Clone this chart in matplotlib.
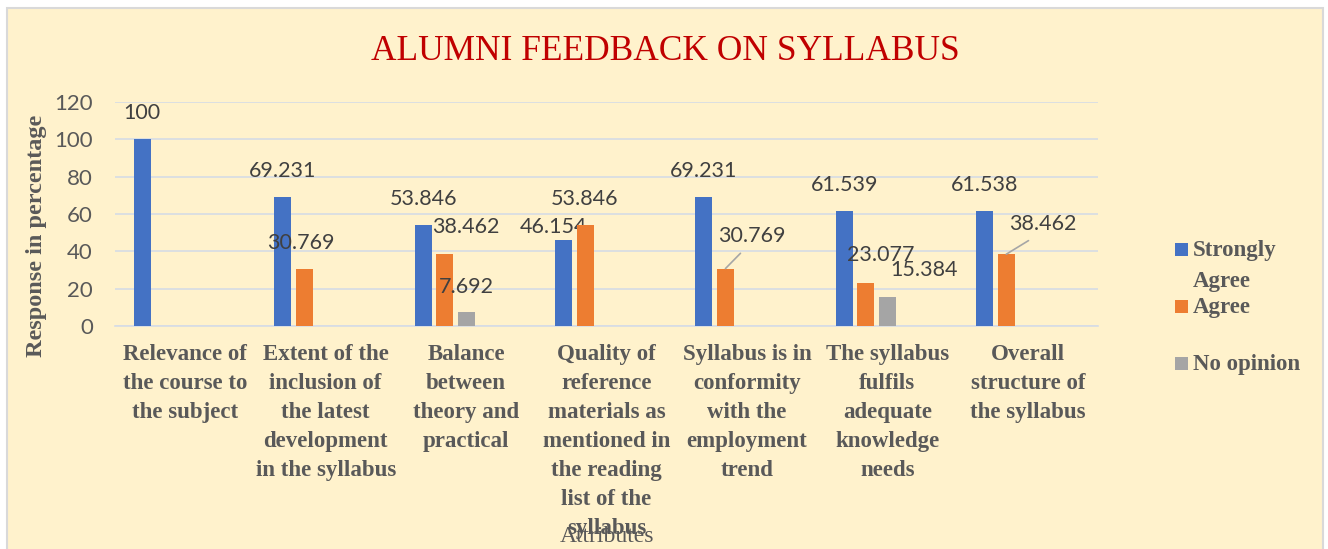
import numpy as np
import matplotlib
matplotlib.use("Agg")
import matplotlib.pyplot as plt
from matplotlib.patches import Rectangle

# data
categories = [
    "Relevance of\nthe course to\nthe subject",
    "Extent of the\ninclusion of\nthe latest\ndevelopment\nin the syllabus",
    "Balance\nbetween\ntheory and\npractical",
    "Quality of\nreference\nmaterials as\nmentioned in\nthe reading\nlist of the\nsyllabus",
    "Syllabus is in\nconformity\nwith the\nemployment\ntrend",
    "The syllabus\nfulfils\nadequate\nknowledge\nneeds",
    "Overall\nstructure of\nthe syllabus",
]
strongly_agree = [100, 69.231, 53.846, 46.154, 69.231, 61.539, 61.538]
agree = [np.nan, 30.769, 38.462, 53.846, 30.769, 23.077, 38.462]
no_opinion = [np.nan, np.nan, 7.692, np.nan, np.nan, 15.384, np.nan]
series_names = ["Strongly\nAgree", "Agree", "No opinion"]
yticks = [0, 20, 40, 60, 80, 100, 120]

colors = ["#4472C4", "#ED7D31", "#A5A5A5"]
BG = "#FFF2CC"
SERIF = "Liberation Serif"
SANS = "Lato"

# label offsets in pixels (dx, dy) from bar top
offsets = [
    [(0, 26), (0, 26), (0, 26), (-10, 13), (0, 26), (0, 26), (0, 26)],
    [None, (-3, 26), (21, 27), (0, 26), (26, 33), (15, 28), (36, 30)],
    [None, None, (0, 25), None, None, (37, 27), None],
]
leader = [[False] * 7, [False, False, False, False, True, False, True], [False] * 7]

W, H = 1328, 549
fig = plt.figure(figsize=(W / 100, H / 100), dpi=100)
fig.patch.set_facecolor("white")
fig.patches.append(Rectangle((7 / W, -0.02), (1323 - 7) / W, 1 - 8 / H + 0.02,
                             transform=fig.transFigure, facecolor=BG,
                             edgecolor="#D9D9D9", linewidth=1.5, zorder=-10))

ax = fig.add_axes([115 / W, 1 - 326 / H, (1098 - 115) / W, (326 - 102) / H])
ax.set_facecolor("none")

x = np.arange(len(categories))
step = 0.153
bw = 0.121
all_series = [strongly_agree, agree, no_opinion]
for si, vals in enumerate(all_series):
    vals = np.array(vals, dtype=float)
    pos = x + (si - 2) * step
    ax.bar(pos, vals, width=bw, color=colors[si], zorder=3)
    for ci, v in enumerate(vals):
        if np.isnan(v):
            continue
        dx, dy = offsets[si][ci]
        lbl = f"{v:g}"
        if leader[si][ci]:
            ax.annotate(lbl, (pos[ci], v), xytext=(dx, dy), textcoords="offset pixels",
                        ha="center", va="center", fontsize=15.5, family=SANS, color="#404040",
                        arrowprops=dict(arrowstyle="-", color="#A6A6A6", lw=1.2,
                                        relpos=(0.45, 0), shrinkA=5, shrinkB=0))
        else:
            ax.annotate(lbl, (pos[ci], v), xytext=(dx, dy), textcoords="offset pixels",
                        ha="center", va="center", fontsize=15.5, family=SANS, color="#404040")

ax.set_xlim(-0.5, len(categories) - 0.5)
ax.set_ylim(0, 120)
ax.set_yticks(yticks)
ax.set_yticklabels([str(t) for t in yticks], family=SANS, fontsize=16, color="#595959")
ax.set_xticks(x)
ax.set_xticklabels(categories, family=SANS, fontsize=16.5, color="#595959",
                   linespacing=1.5, fontweight="bold")
for t in ax.get_xticklabels():
    t.set_family(SERIF)
    t.set_multialignment("center")
ax.tick_params(axis="both", length=0)
ax.tick_params(axis="x", pad=13)
ax.tick_params(axis="y", pad=16)
ax.grid(axis="y", color="#D6DCE5", linewidth=1.2, zorder=0)
for s in ["top", "right", "left"]:
    ax.spines[s].set_visible(False)
ax.spines["bottom"].set_color("#D6DCE5")
ax.spines["bottom"].set_linewidth(1.2)

fig.text(665 / W, 1 - 52 / H, "ALUMNI FEEDBACK ON SYLLABUS", ha="center", va="center",
         family=SERIF, fontsize=25.5, color="#C00000")
fig.text(37 / W, 1 - 236 / H, "Response in percentage", rotation=90, ha="center", va="center",
         family=SERIF, fontsize=17.5, fontweight="bold", color="#595959")
fig.text(607 / W, 1 - 537 / H, "Attributes", ha="center", va="center",
         family=SERIF, fontsize=17, color="#595959")

# legend
leg_y = [250, 307, 364]
for i, name in enumerate(series_names):
    fig.patches.append(Rectangle((1175 / W, 1 - (leg_y[i] + 6) / H), 13 / W, 13 / H,
                                 transform=fig.transFigure, facecolor=colors[i], edgecolor="none"))
    fig.text(1193 / W, 1 - (leg_y[i] - 10) / H, name, ha="left", va="top", family=SERIF,
             fontsize=16.5, fontweight="bold", color="#595959", linespacing=1.6)

fig.savefig("out.png", dpi=100, facecolor=fig.get_facecolor())
